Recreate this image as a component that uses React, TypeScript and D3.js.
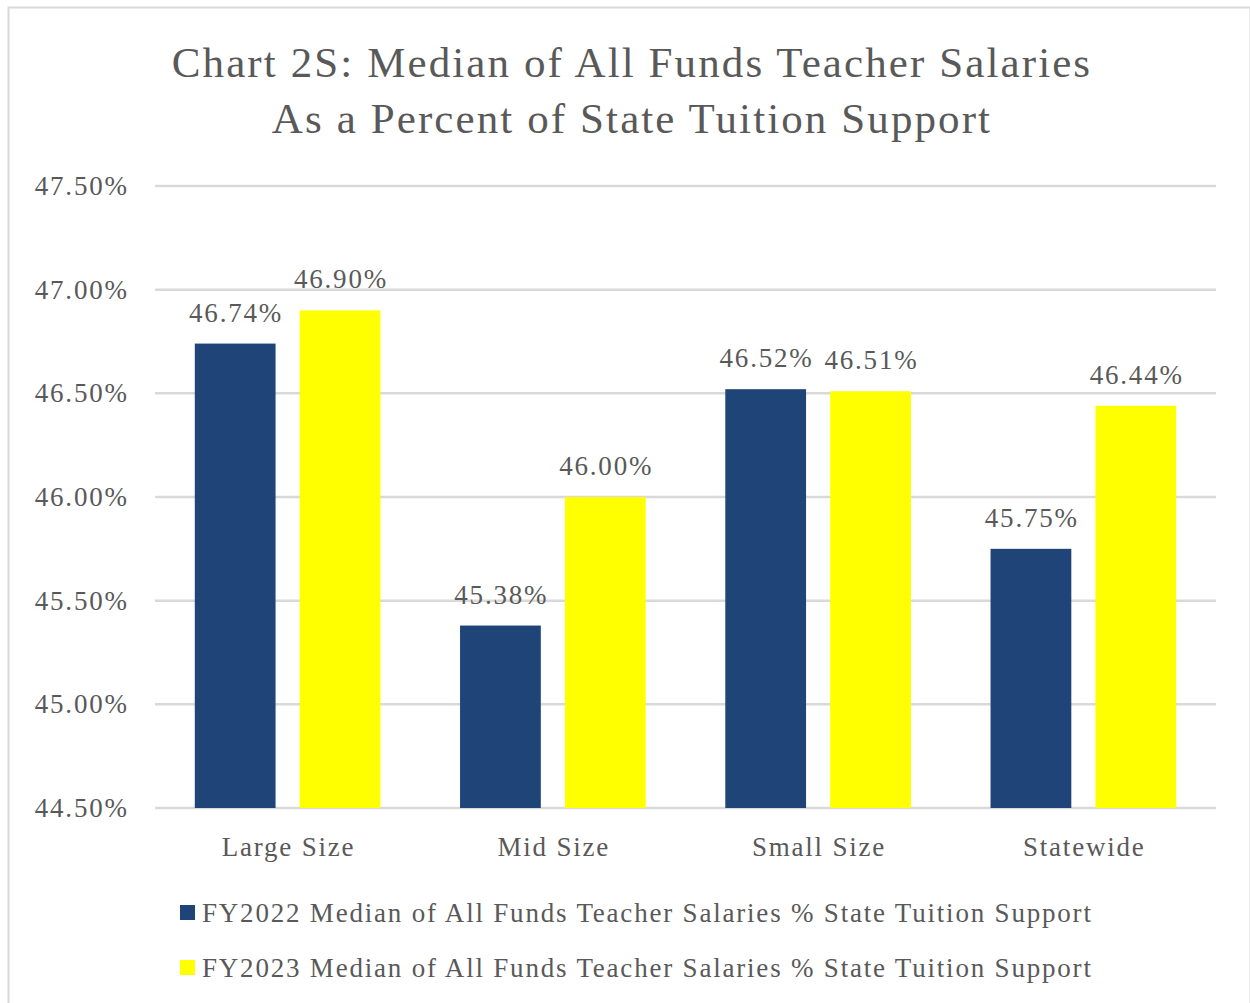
import * as d3 from "d3";

const categories = ["Large Size", "Mid Size", "Small Size", "Statewide"];
const seriesNames = [
  "FY2022 Median of All Funds Teacher Salaries % State Tuition Support",
  "FY2023 Median of All Funds Teacher Salaries % State Tuition Support",
];
const fy2022 = [46.74, 45.38, 46.52, 45.75];
const fy2023 = [46.9, 46.0, 46.51, 46.44];
const yTicks = [44.5, 45.0, 45.5, 46.0, 46.5, 47.0, 47.5];
const colors = ["#1F4578", "#FFFF00"];
const titleLines = [
  "Chart 2S: Median of All Funds Teacher Salaries",
  "As a Percent of State Tuition Support",
];

const W = 1250;
const H = 1003;
const font = "'Liberation Serif', 'Times New Roman', serif";
const textColor = "#595959";
const ls = 1.8; // the source render is a bit wider than Liberation Serif

export default function App() {
  const margin = { top: 186, right: 34, bottom: 195, left: 155 };

  const x0 = d3
    .scaleBand()
    .domain(categories)
    .range([margin.left, W - margin.right])
    .paddingInner(0.3)
    .paddingOuter(0.15);

  const x1 = d3
    .scaleBand()
    .domain(["0", "1"])
    .range([0, x0.bandwidth()])
    .paddingInner(0.23);

  const y = d3
    .scaleLinear()
    .domain([44.5, 47.5])
    .range([H - margin.bottom, margin.top]);

  const series = [fy2022, fy2023];

  return (
    <svg width={W} height={H} style={{ display: "block", position: "absolute", left: 0, top: 0 }}>
      <rect x={0} y={0} width={W} height={H} fill="#fff" />
      <rect x={8.5} y={7.5} width={W - 8} height={H} fill="none" stroke="#d9d9d9" strokeWidth={2} />
      {titleLines.map((t, i) => (
        <text
          key={t}
          x={632}
          y={77 + i * 56}
          textAnchor="middle"
          fontFamily={font}
          fontSize={43}
          letterSpacing={2.1}
          fill={textColor}
        >
          {t}
        </text>
      ))}
      {yTicks.map((t) => (
        <g key={t}>
          <line
            x1={margin.left}
            x2={W - margin.right}
            y1={y(t)}
            y2={y(t)}
            stroke="#d9d9d9"
            strokeWidth={2.5}
          />
          <text
            x={127 + ls}
            y={y(t) + 9}
            textAnchor="end"
            fontFamily={font}
            fontSize={27}
            letterSpacing={ls}
            fill={textColor}
          >
            {d3.format(".2f")(t) + "%"}
          </text>
        </g>
      ))}
      {categories.map((c, ci) => (
        <g key={c} transform={`translate(${x0(c)},0)`}>
          {series.map((s, si) => {
            const bx = x1(String(si)) as number;
            return (
              <g key={si}>
                <rect
                  x={bx}
                  y={y(s[ci])}
                  width={x1.bandwidth()}
                  height={y(44.5) - y(s[ci])}
                  fill={colors[si]}
                />
                <text
                  x={bx + x1.bandwidth() / 2 + ls / 2}
                  y={y(s[ci]) - 22}
                  textAnchor="middle"
                  fontFamily={font}
                  fontSize={27}
                  letterSpacing={ls}
                  fill={textColor}
                >
                  {d3.format(".2f")(s[ci]) + "%"}
                </text>
              </g>
            );
          })}
          <text
            x={x0.bandwidth() / 2 + ls / 2}
            y={856}
            textAnchor="middle"
            fontFamily={font}
            fontSize={27}
            letterSpacing={ls}
            fill={textColor}
          >
            {c}
          </text>
        </g>
      ))}
      {seriesNames.map((n, i) => (
        <g key={n} transform={`translate(180,${905 + i * 55})`}>
          <rect x={0} y={0} width={15} height={15} fill={colors[i]} />
          <text x={22} y={17} fontFamily={font} fontSize={27} letterSpacing={ls} fill={textColor}>
            {n}
          </text>
        </g>
      ))}
    </svg>
  );
}
